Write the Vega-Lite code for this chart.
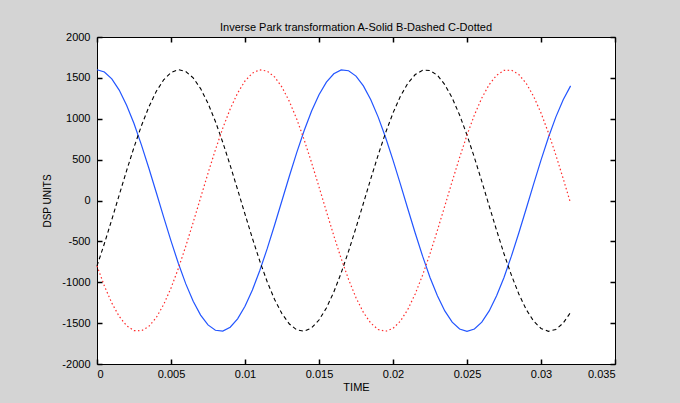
{
  "$schema": "https://vega.github.io/schema/vega-lite/v6.json",
  "width": 518,
  "height": 327,
  "autosize": {"type": "none"},
  "padding": {"left": 97, "top": 37, "right": 65, "bottom": 39},
  "background": "#d4d4d4",
  "config": {
    "locale": {"number": {"decimal": ".", "thousands": ",", "grouping": [3], "currency": ["$", ""], "minus": "-"}},
    "view": {"fill": "white", "stroke": "black", "strokeWidth": 1},
    "axis": {
      "grid": false,
      "zindex": 1,
      "domain": false,
      "ticks": true,
      "tickColor": "#000000",
      "tickOpacity": 1,
      "tickWidth": 1.5,
      "tickSize": 5,
      "offset": -5,
      "labelFont": "Liberation Sans",
      "labelFontSize": 11,
      "labelColor": "black",
      "titleFont": "Liberation Sans",
      "titleFontWeight": "normal",
      "titleColor": "black"
    }
  },
  "title": {"text": "Inverse Park transformation A-Solid B-Dashed C-Dotted", "font": "Liberation Sans", "fontSize": 11, "fontWeight": "normal", "color": "black", "offset": -2, "anchor": "middle"},
  "data": {"values": [
    {"t": 0.0000, "A": 1600, "B": -800, "C": -800},
    {"t": 0.0005, "A": 1572, "B": -526, "C": -1046},
    {"t": 0.0010, "A": 1488, "B": -234, "C": -1254},
    {"t": 0.0015, "A": 1351, "B": 67, "C": -1418},
    {"t": 0.0020, "A": 1166, "B": 365, "C": -1532},
    {"t": 0.0025, "A": 941, "B": 651, "C": -1591},
    {"t": 0.0030, "A": 681, "B": 913, "C": -1594},
    {"t": 0.0035, "A": 398, "B": 1143, "C": -1541},
    {"t": 0.0040, "A": 101, "B": 1333, "C": -1433},
    {"t": 0.0045, "A": -201, "B": 1475, "C": -1274},
    {"t": 0.0050, "A": -494, "B": 1565, "C": -1071},
    {"t": 0.0055, "A": -771, "B": 1600, "C": -829},
    {"t": 0.0060, "A": -1020, "B": 1578, "C": -558},
    {"t": 0.0065, "A": -1233, "B": 1500, "C": -267},
    {"t": 0.0070, "A": -1402, "B": 1369, "C": 34},
    {"t": 0.0075, "A": -1522, "B": 1189, "C": 333},
    {"t": 0.0080, "A": -1587, "B": 967, "C": 620},
    {"t": 0.0085, "A": -1597, "B": 711, "C": 885},
    {"t": 0.0090, "A": -1550, "B": 430, "C": 1120},
    {"t": 0.0095, "A": -1448, "B": 134, "C": 1314},
    {"t": 0.0100, "A": -1294, "B": -167, "C": 1462},
    {"t": 0.0105, "A": -1095, "B": -462, "C": 1558},
    {"t": 0.0110, "A": -857, "B": -741, "C": 1599},
    {"t": 0.0115, "A": -589, "B": -994, "C": 1583},
    {"t": 0.0120, "A": -300, "B": -1211, "C": 1511},
    {"t": 0.0125, "A": 0, "B": -1386, "C": 1386},
    {"t": 0.0130, "A": 300, "B": -1511, "C": 1211},
    {"t": 0.0135, "A": 589, "B": -1583, "C": 994},
    {"t": 0.0140, "A": 857, "B": -1599, "C": 741},
    {"t": 0.0145, "A": 1095, "B": -1558, "C": 462},
    {"t": 0.0150, "A": 1294, "B": -1462, "C": 167},
    {"t": 0.0155, "A": 1448, "B": -1314, "C": -134},
    {"t": 0.0160, "A": 1550, "B": -1120, "C": -430},
    {"t": 0.0165, "A": 1597, "B": -885, "C": -711},
    {"t": 0.0170, "A": 1587, "B": -620, "C": -967},
    {"t": 0.0175, "A": 1522, "B": -333, "C": -1189},
    {"t": 0.0180, "A": 1402, "B": -34, "C": -1369},
    {"t": 0.0185, "A": 1233, "B": 267, "C": -1500},
    {"t": 0.0190, "A": 1020, "B": 558, "C": -1578},
    {"t": 0.0195, "A": 771, "B": 829, "C": -1600},
    {"t": 0.0200, "A": 494, "B": 1071, "C": -1565},
    {"t": 0.0205, "A": 201, "B": 1274, "C": -1475},
    {"t": 0.0210, "A": -101, "B": 1433, "C": -1333},
    {"t": 0.0215, "A": -398, "B": 1541, "C": -1143},
    {"t": 0.0220, "A": -681, "B": 1594, "C": -913},
    {"t": 0.0225, "A": -941, "B": 1591, "C": -651},
    {"t": 0.0230, "A": -1166, "B": 1532, "C": -365},
    {"t": 0.0235, "A": -1351, "B": 1418, "C": -67},
    {"t": 0.0240, "A": -1488, "B": 1254, "C": 234},
    {"t": 0.0245, "A": -1572, "B": 1046, "C": 526},
    {"t": 0.0250, "A": -1600, "B": 800, "C": 800},
    {"t": 0.0255, "A": -1572, "B": 526, "C": 1046},
    {"t": 0.0260, "A": -1488, "B": 234, "C": 1254},
    {"t": 0.0265, "A": -1351, "B": -67, "C": 1418},
    {"t": 0.0270, "A": -1166, "B": -365, "C": 1532},
    {"t": 0.0275, "A": -941, "B": -651, "C": 1591},
    {"t": 0.0280, "A": -681, "B": -913, "C": 1594},
    {"t": 0.0285, "A": -398, "B": -1143, "C": 1541},
    {"t": 0.0290, "A": -101, "B": -1333, "C": 1433},
    {"t": 0.0295, "A": 201, "B": -1475, "C": 1274},
    {"t": 0.0300, "A": 494, "B": -1565, "C": 1071},
    {"t": 0.0305, "A": 771, "B": -1600, "C": 829},
    {"t": 0.0310, "A": 1020, "B": -1578, "C": 558},
    {"t": 0.0315, "A": 1233, "B": -1500, "C": 267},
    {"t": 0.0320, "A": 1402, "B": -1369, "C": -34}
  ]},
  "layer": [
    {
      "mark": {"type": "line", "color": "#2255ff", "strokeWidth": 1.2},
      "encoding": {
        "x": {"field": "t", "type": "quantitative", "scale": {"domain": [0, 0.035], "nice": false, "zero": false},
          "axis": {"orient": "bottom", "values": [0, 0.005, 0.01, 0.015, 0.02, 0.025, 0.03, 0.035], "format": "~g", "ticks": true, "labelPadding": 4, "title": "TIME", "titleFontSize": 11, "titlePadding": 2}},
        "y": {"field": "A", "type": "quantitative", "scale": {"domain": [-2000, 2000], "nice": false, "zero": false},
          "axis": {"orient": "left", "values": [-2000, -1500, -1000, -500, 0, 500, 1000, 1500, 2000], "format": "d", "ticks": true, "labelPadding": 7, "title": "DSP UNITS", "titleFontSize": 10, "titlePadding": 9}}
      }
    },
    {
      "mark": {"type": "line", "color": "black", "strokeWidth": 1.1, "strokeDash": [4, 3]},
      "encoding": {
        "x": {"field": "t", "type": "quantitative", "axis": {"orient": "top", "values": [0, 0.005, 0.01, 0.015, 0.02, 0.025, 0.03, 0.035], "ticks": true, "labels": false, "title": null}},
        "y": {"field": "B", "type": "quantitative", "axis": {"orient": "right", "values": [-2000, -1500, -1000, -500, 0, 500, 1000, 1500, 2000], "ticks": true, "labels": false, "title": null}}
      }
    },
    {
      "mark": {"type": "line", "color": "#ff2a2a", "strokeWidth": 1.2, "strokeDash": [1.5, 2.5]},
      "encoding": {
        "x": {"field": "t", "type": "quantitative", "axis": null},
        "y": {"field": "C", "type": "quantitative", "axis": null}
      }
    }
  ],
  "resolve": {"axis": {"x": "independent", "y": "independent"}}
}
